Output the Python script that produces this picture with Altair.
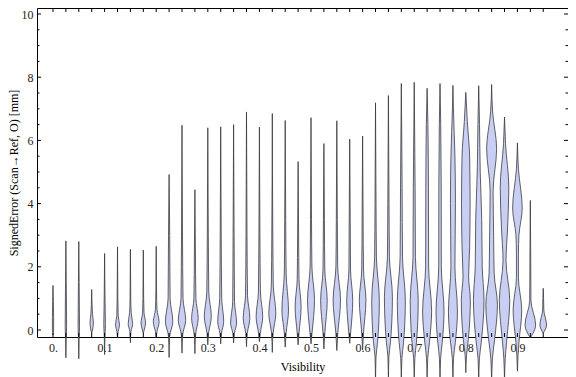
import altair as alt
import pandas as pd

# Violin positions (Visibility bins)
VIS = [0.0, 0.025, 0.05, 0.075, 0.1, 0.125, 0.15, 0.175, 0.2, 0.225,
       0.25, 0.275, 0.3, 0.325, 0.35, 0.375, 0.4, 0.425, 0.45, 0.475,
       0.5, 0.525, 0.55, 0.575, 0.6, 0.625, 0.65, 0.675, 0.7, 0.725,
       0.75, 0.775, 0.8, 0.825, 0.85, 0.875, 0.9, 0.925, 0.95]

T = 0.35  # thin tail density
# Violin profiles: (signed error, relative density)
PROFILES = [
    [(-0.15, 0), (0, 0.6), (0.4, 0.6), (0.9, T), (1.41, 0)],
    [(-0.88, 0), (-0.3, T), (0.1, 0.7), (0.6, 0.6), (1.5, T), (2.82, 0)],
    [(-0.91, 0), (-0.3, T), (0.1, 0.7), (0.6, 0.6), (1.5, T), (2.80, 0)],
    [(-0.1, 0), (0.0, 0.8), (0.22, 1.7), (0.5, 0.8), (0.8, T), (1.28, 0)],
    [(-0.78, 0), (-0.2, T), (0.2, 0.8), (0.6, 0.6), (1.2, T), (2.42, 0)],
    [(-0.25, 0), (-0.05, 0.6), (0.16, 2.0), (0.45, 0.7), (1.0, T), (2.63, 0)],
    [(-0.4, 0), (-0.05, 0.6), (0.2, 2.2), (0.55, 0.8), (1.0, T), (2.55, 0)],
    [(-0.1, 0), (0.0, 0.9), (0.22, 2.3), (0.55, 0.7), (1.0, T), (2.53, 0)],
    [(-0.25, 0), (-0.05, 0.8), (0.26, 2.9), (0.65, 0.8), (1.2, T), (2.65, 0)],
    [(-0.87, 0), (-0.2, 0.6), (0.26, 3.7), (1.0, 1.0), (3.0, 0.6), (4.92, 0)],
    [(-0.73, 0), (-0.15, 0.7), (0.31, 3.7), (1.0, 1.0), (3.0, 0.5), (6.48, 0)],
    [(-0.75, 0), (-0.15, 0.7), (0.37, 3.3), (1.0, 1.0), (2.5, 0.5), (4.44, 0)],
    [(-0.47, 0), (-0.1, 0.8), (0.42, 3.5), (1.2, 1.0), (3.0, 0.5), (6.40, 0)],
    [(-0.44, 0), (-0.1, 0.8), (0.26, 3.0), (1.0, 1.0), (3.0, 0.5), (6.43, 0)],
    [(-0.41, 0), (-0.1, 0.8), (0.22, 3.0), (0.9, 0.9), (3.0, 0.5), (6.50, 0)],
    [(-0.53, 0), (-0.1, 0.8), (0.37, 3.3), (1.1, 1.0), (3.0, 0.5), (6.90, 0)],
    [(-0.37, 0), (-0.1, 0.9), (0.42, 3.3), (1.2, 1.0), (3.0, 0.5), (6.42, 0)],
    [(-0.71, 0), (-0.1, 0.8), (0.53, 3.5), (1.4, 1.0), (3.0, 0.5), (6.85, 0)],
    [(-0.54, 0), (-0.1, 0.9), (0.63, 3.3), (1.8, 0.9), (3.5, 0.5), (6.63, 0)],
    [(-0.47, 0), (-0.1, 0.9), (0.73, 3.0), (1.6, 0.9), (3.0, 0.5), (5.33, 0)],
    [(-0.44, 0), (-0.1, 1.0), (0.94, 3.5), (2.0, 0.9), (3.5, 0.5), (6.72, 0)],
    [(-0.6, 0), (-0.1, 0.9), (0.94, 3.3), (1.9, 0.9), (3.5, 0.5), (5.90, 0)],
    [(-0.65, 0), (-0.1, 1.0), (0.94, 3.7), (2.0, 0.9), (3.5, 0.5), (6.62, 0)],
    [(-0.42, 0), (-0.1, 0.9), (0.94, 3.0), (1.9, 0.8), (3.5, 0.5), (6.04, 0)],
    [(-0.63, 0), (-0.1, 0.9), (0.94, 3.3), (1.9, 0.9), (3.5, 0.5), (6.14, 0)],
    [(-1.7, 0), (-0.85, 0.5), (-0.4, 2.0), (0.94, 3.8), (2.3, 0.9), (4.0, 0.5), (7.19, 0)],
    [(-1.7, 0), (-0.85, 0.5), (-0.4, 2.0), (1.05, 4.0), (2.3, 1.0), (4.0, 0.6), (7.42, 0)],
    [(-1.7, 0), (-0.9, 0.6), (-0.4, 2.2), (0.94, 4.0), (2.3, 1.2), (4.5, 0.8), (7.80, 0)],
    [(-1.7, 0), (-0.9, 0.6), (-0.4, 2.2), (0.94, 4.0), (2.3, 1.2), (4.5, 0.9), (7.84, 0)],
    [(-1.7, 0), (-0.9, 0.6), (-0.4, 2.3), (0.6, 4.5), (2.0, 1.5), (4.5, 1.3), (6.5, 0.8), (7.65, 0)],
    [(-1.7, 0), (-0.9, 0.6), (-0.4, 2.2), (0.6, 4.0), (2.0, 1.3), (4.5, 1.2), (6.5, 0.7), (7.80, 0)],
    [(-1.7, 0), (-0.9, 0.6), (-0.4, 2.4), (0.6, 4.5), (2.0, 2.0), (4.0, 2.5), (5.5, 2.0), (7.0, 0.5), (7.74, 0)],
    [(-1.35, 0), (-0.8, 0.7), (-0.3, 2.5), (0.94, 4.5), (1.7, 2.8), (2.6, 3.8), (4.0, 4.3), (5.5, 3.8), (6.6, 1.5), (7.52, 0)],
    [(-1.7, 0), (-0.9, 0.7), (-0.4, 2.5), (0.94, 5.3), (2.0, 3.5), (3.5, 3.0), (5.0, 1.5), (6.5, 0.8), (7.73, 0)],
    [(-1.7, 0), (-0.9, 0.8), (-0.3, 3.0), (0.8, 5.8), (1.8, 2.5), (3.0, 2.0), (4.4, 1.5), (5.74, 5.0), (6.9, 1.0), (7.77, 0)],
    [(-1.7, 0), (-0.9, 0.7), (-0.4, 2.0), (0.94, 5.2), (2.2, 1.5), (3.2, 3.0), (4.5, 4.3), (5.9, 1.0), (6.74, 0)],
    [(-1.3, 0), (-0.8, 0.6), (-0.4, 1.5), (0.63, 4.3), (1.66, 1.0), (2.4, 1.0), (3.0, 1.5), (3.86, 4.8), (5.1, 1.0), (5.92, 0)],
    [(-0.25, 0), (0.16, 5.3), (0.94, 0.6), (2.5, T), (4.1, 0)],
    [(-0.1, 0), (0.16, 3.3), (0.63, 0.6), (1.0, T), (1.32, 0)],
]

X_LABELS = [0.0, 0.1, 0.2, 0.3, 0.4, 0.5, 0.6, 0.7, 0.8, 0.9]
Y_MAJOR = [0, 2, 4, 6, 8, 10]
Y_MINOR = [0.5, 1, 1.5, 2.5, 3, 3.5, 4.5, 5, 5.5, 6.5, 7, 7.5, 8.5, 9, 9.5]

W, H = 531, 329
X_DOMAIN = [-0.031, 0.998]
Y_DOMAIN = [-0.2215, 10.19]
PX = (X_DOMAIN[1] - X_DOMAIN[0]) / W  # one pixel in x units

rows = []
for i, (v, prof) in enumerate(zip(VIS, PROFILES)):
    for y, w in prof:
        rows.append({"vid": i, "vis": v, "y": y, "w": w})
df = pd.DataFrame(rows)

xscale = alt.Scale(domain=X_DOMAIN, nice=False, zero=False)
yscale = alt.Scale(domain=Y_DOMAIN, nice=False, zero=False)

FONT = "Liberation Serif"

x_axis = alt.Axis(values=X_LABELS, tickSize=0, domain=False, grid=False,
                  labelExpr="datum.value == 0 ? '0.' : format(datum.value, '.1f')",
                  labelPadding=5, titlePadding=8)
y_axis = alt.Axis(values=Y_MAJOR, tickSize=0, domain=False, grid=False,
                  labelPadding=4, titlePadding=1)
X_TITLE = "Visibility"
Y_TITLE = "SignedError (Scan\u2192Ref, O) [mm]"

violins = alt.Chart(df).transform_calculate(
    lo=f"datum.vis - datum.w*{PX}",
    hi=f"datum.vis + datum.w*{PX}",
).mark_area(
    orient="horizontal", interpolate="monotone",
    fill="#C9CFF4", stroke="#333333", strokeWidth=0.9, strokeOpacity=0.85,
).encode(
    x=alt.X("lo:Q", scale=xscale, title=X_TITLE, axis=x_axis),
    x2="hi:Q",
    y=alt.Y("y:Q", scale=yscale, title=Y_TITLE, axis=y_axis),
    detail="vid:N",
)

xt = pd.DataFrame({"vis": VIS})
ymaj = pd.DataFrame({"val": Y_MAJOR})
ymin = pd.DataFrame({"val": Y_MINOR})

tick_style = dict(color="black", strokeWidth=1)

XE = alt.X("vis:Q", scale=xscale, title=X_TITLE, axis=x_axis)
YE = alt.Y("val:Q", scale=yscale, title=Y_TITLE, axis=y_axis)

bottom_ticks = alt.Chart(xt).mark_rule(**tick_style).encode(
    x=XE, y=alt.value(H), y2=alt.value(H - 4))
top_ticks = alt.Chart(xt).mark_rule(**tick_style).encode(
    x=XE, y=alt.value(0), y2=alt.value(4))
left_major = alt.Chart(ymaj).mark_rule(**tick_style).encode(
    y=YE, x=alt.value(0), x2=alt.value(4))
left_minor = alt.Chart(ymin).mark_rule(**tick_style).encode(
    y=YE, x=alt.value(0), x2=alt.value(2.5))
right_major = alt.Chart(ymaj).mark_rule(**tick_style).encode(
    y=YE, x=alt.value(W), x2=alt.value(W - 4))
right_minor = alt.Chart(ymin).mark_rule(**tick_style).encode(
    y=YE, x=alt.value(W), x2=alt.value(W - 2.5))

chart = alt.layer(
    violins, bottom_ticks, top_ticks, left_major, left_minor, right_major, right_minor
).properties(
    width=W, height=H,
    autosize=alt.AutoSizeParams(type="none"),
    padding={"left": 29, "top": 0, "right": 0, "bottom": 40},
    background="white",
).configure_view(
    stroke="black", strokeWidth=1,
).configure_axis(
    labelFont=FONT, labelFontSize=12, labelColor="#222",
    titleFont=FONT, titleFontSize=12, titleFontWeight="normal", titleColor="black",
)

chart.save("out.html", embed_options={"renderer": "svg", "actions": False})
